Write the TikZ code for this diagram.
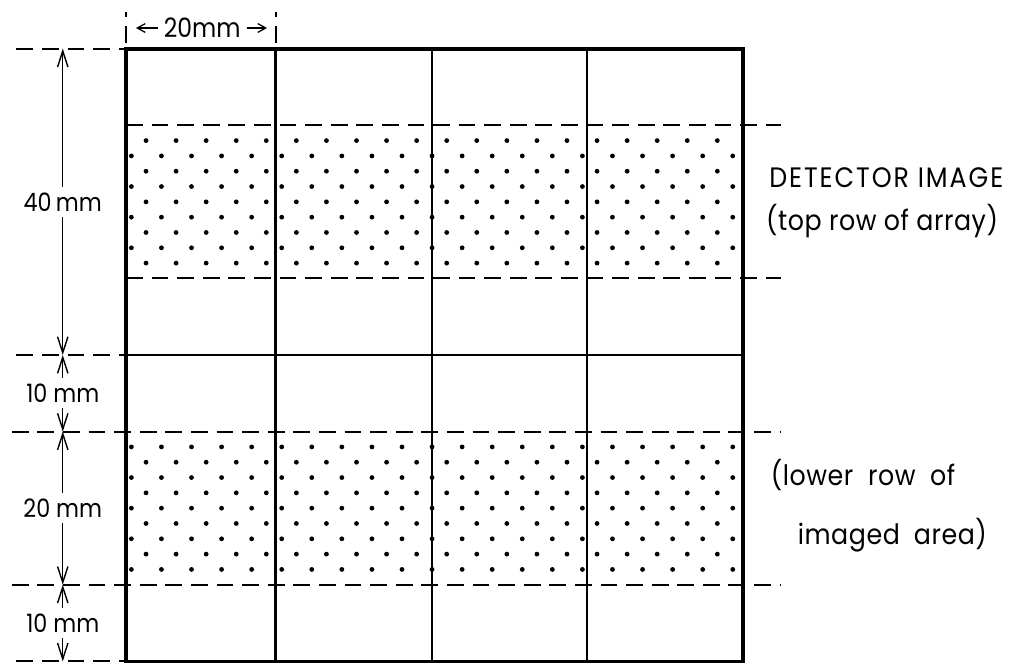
\documentclass[tikz,border=0pt]{standalone}
\usepackage{fontspec}
\setmainfont{Poppins}
\newfontfamily\dimfont[FakeStretch=0.88]{Poppins}
\newfontfamily\capsfont[FakeStretch=0.9,LetterSpace=7]{Poppins}
\newfontfamily\sidefont[FakeStretch=0.9,LetterSpace=2]{Poppins}
\usetikzlibrary{arrows.meta}
\tikzset{
  frame/.style={line width=2.6pt},
  cell/.style={line width=1.8pt},
  guide/.style={line width=1.5pt, dash pattern=on 0.42cm off 0.22cm},
  dimline/.style={line width=0.9pt, -{Straight Barb[length=0.4cm,width=0.26cm,line width=1pt]}},
  tickline/.style={line width=0.9pt, -{Straight Barb[length=0.2cm,width=0.22cm]}},
  dimtext/.style={inner sep=4pt, font=\fontsize{18}{21}\dimfont},
  sidetext/.style={anchor=base west, inner sep=0pt, font=\fontsize{20}{23}\sidefont}
}

\begin{document}
\begin{tikzpicture}[x=0.1928cm, y=0.1915cm]
    \useasboundingbox (-16.34,-0.46) rectangle (115.57,86.36);
    % Stippled bands
    \foreach \k in {0,...,8} {
        \pgfmathsetmacro{\yt}{68-2*\k}
        \pgfmathsetmacro{\yb}{28-2*\k}
        \pgfmathsetmacro{\ot}{isodd(\k) ? 0.7 : 2.6}
        \pgfmathsetmacro{\ob}{isodd(\k) ? 2.6 : 0.7}
        \pgfmathtruncatemacro{\nt}{isodd(\k) ? 20 : 19}
        \pgfmathtruncatemacro{\nb}{isodd(\k) ? 19 : 20}
        \foreach \i in {0,...,\nt}
            \fill ({\ot+3.9*\i},\yt) circle (0.06cm);
        \foreach \i in {0,...,\nb}
            \fill ({\ob+3.9*\i},\yb) circle (0.06cm);
    }
    % Frame and cells
    \draw[frame] (0,0) rectangle (80,80);
    \foreach \x in {19.4,39.7,59.8}
        \draw[cell] (\x,0) -- (\x,80);
    \draw[cell] (0,40) -- (80,40);
    % Dashed guides
    \foreach \y in {70,50}
        \draw[guide] (0,\y) -- (84.9,\y);
    \foreach \y in {30,10}
        \draw[guide] (-14.8,\y) -- (84.9,\y);
    \foreach \y in {80,40,0}
        \draw[guide] (-14.2,\y) -- (0,\y);
    \foreach \x in {0,19.5}
        \draw[guide] (\x,80.8) -- (\x,84.8);
    % Dimensions
    \foreach \y in {80,40,30,10,0}
        \coordinate (h\y) at (-8.2,\y);
    \coordinate (w0) at (1.3,82.7);
    \coordinate (w20) at (18.3,82.7);
    \node[dimtext, font=\fontsize{19}{22}\dimfont] (lw) at (9.9,82.7) {20mm};
    \node[dimtext] (l40) at (-8.2,60) {40\,mm};
    \node[dimtext] (l10a) at (-8.2,35) {10 mm};
    \node[dimtext] (l20) at (-8.2,20) {20 mm};
    \node[dimtext] (l10b) at (-8.2,5) {10 mm};
    \draw[tickline] (lw) -- (w0);
    \draw[tickline] (lw) -- (w20);
    \draw[dimline] (l40) -- (h80);
    \draw[dimline] (l40) -- (h40);
    \draw[dimline] (l10a) -- (h40);
    \draw[dimline] (l10a) -- (h30);
    \draw[dimline] (l20) -- (h30);
    \draw[dimline] (l20) -- (h10);
    \draw[dimline] (l10b) -- (h10);
    \draw[dimline] (l10b) -- (h0);
    % Side labels
    \node[sidetext, font=\fontsize{20}{23}\capsfont] (det) at (83.4,61.9) {DETECTOR IMAGE};
    \node[sidetext] (arr) at (83.0,56.2) {(top row of array)};
    \node[sidetext] (low) at (83.6,22.9) {(lower\ \ row\ \ of};
    \node[sidetext] (img) at (87.1,15.3) {imaged\hspace{0.5em}area)};
\end{tikzpicture}
\end{document}
